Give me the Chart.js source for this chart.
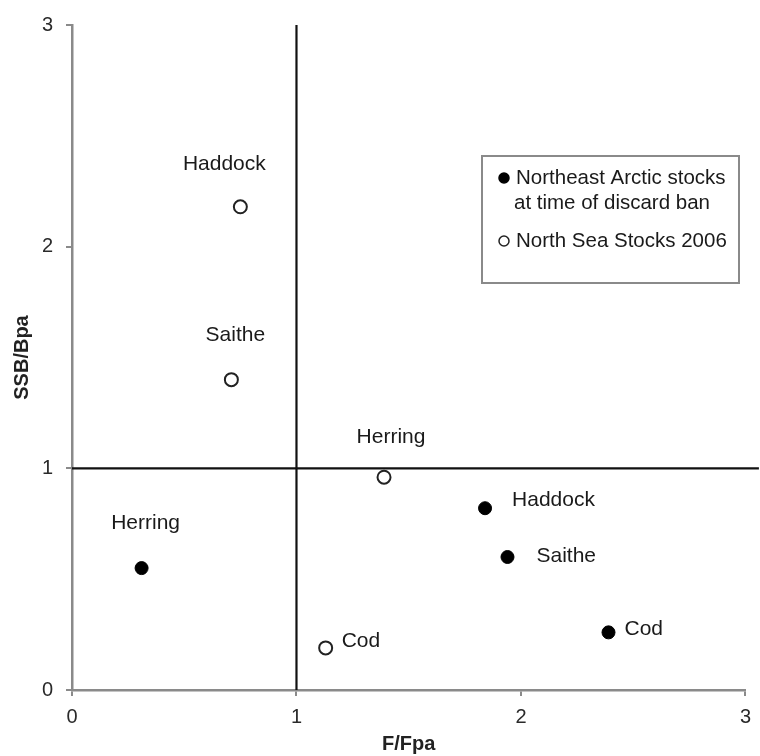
<!DOCTYPE html>
<html>
<head>
<meta charset="utf-8">
<script src="https://cdn.jsdelivr.net/npm/chart.js@4.4.1/dist/chart.umd.min.js"></script>
<style>
  html, body { margin: 0; padding: 0; background: #fff; }
  canvas { display: block; }
</style>
</head>
<body>
<canvas id="c" width="760" height="756"></canvas>
<script>
// Axis ticks
const xTicks = [0, 1, 2, 3];
const yTicks = [0, 1, 2, 3];

// Series names (legend lines)
const seriesNames = [
  ['Northeast Arctic stocks', 'at time of discard ban'],
  ['North Sea Stocks 2006']
];

// Northeast Arctic stocks at time of discard ban
const arcticStocks = ['Herring', 'Haddock', 'Saithe', 'Cod'];
const arcticF      = [0.31, 1.84, 1.94, 2.39];
const arcticSSB    = [0.55, 0.82, 0.60, 0.26];

// North Sea stocks 2006
const northSeaStocks = ['Haddock', 'Saithe', 'Herring', 'Cod'];
const northSeaF      = [0.75, 0.71, 1.39, 1.13];
const northSeaSSB    = [2.18, 1.40, 0.96, 0.19];

// Precautionary reference levels
const refF = 1;
const refSSB = 1;
const refLineEnd = 3.06;

// Label placement next to each point: [dx, dy, align]
const arcticLabelPlacement = [[4, -45, 'center'], [27, -8, 'left'], [29, -1, 'left'], [16, -3, 'left']];
const northSeaLabelPlacement = [[-16, -43, 'center'], [4, -44, 'center'], [7, -40, 'center'], [16, -7, 'left']];

const FONT = "'Liberation Sans', Arial, Helvetica, sans-serif";
const AXIS_GREY = '#8a8a8a';

const toPoints = (xs, ys) => xs.map((x, i) => ({ x: x, y: ys[i] }));

const pointLabels = {
  id: 'pointLabels',
  afterDatasetsDraw(chart) {
    const ctx = chart.ctx;
    ctx.save();
    ctx.font = '21px ' + FONT;
    ctx.fillStyle = '#1a1a1a';
    ctx.textBaseline = 'middle';
    chart.data.datasets.forEach((ds, di) => {
      if (!ds.stockNames) return;
      const meta = chart.getDatasetMeta(di);
      meta.data.forEach((el, i) => {
        const [dx, dy, align] = ds.labelPlacement[i];
        ctx.textAlign = align;
        ctx.fillText(ds.stockNames[i], el.x + dx, el.y + dy);
      });
    });
    ctx.restore();
  }
};

const boxedLegend = {
  id: 'boxedLegend',
  afterDraw(chart) {
    const ctx = chart.ctx;
    const a = chart.chartArea;
    const left = a.left + 410, top = a.top + 131, w = 257, h = 127;
    ctx.save();
    ctx.strokeStyle = AXIS_GREY;
    ctx.lineWidth = 2;
    ctx.strokeRect(left, top, w, h);
    ctx.font = '20.5px ' + FONT;
    ctx.fillStyle = '#1a1a1a';
    ctx.textBaseline = 'middle';
    ctx.textAlign = 'left';
    const rows = [
      { ds: chart.data.datasets[0], y: top + 22 },
      { ds: chart.data.datasets[1], y: top + 85 }
    ];
    rows.forEach(r => {
      ctx.beginPath();
      ctx.arc(left + 22, r.y, 5, 0, Math.PI * 2);
      ctx.fillStyle = r.ds.backgroundColor;
      ctx.fill();
      ctx.lineWidth = 1.5;
      ctx.strokeStyle = r.ds.borderColor;
      ctx.stroke();
      ctx.fillStyle = '#1a1a1a';
      r.ds.legendLines.forEach((line, k) => {
        ctx.fillText(line, left + 34 - (k > 0 ? 2 : 0), r.y + k * 25);
      });
    });
    ctx.restore();
  }
};

new Chart(document.getElementById('c'), {
  type: 'scatter',
  data: {
    datasets: [
      {
        label: seriesNames[0].join(' '),
        legendLines: seriesNames[0],
        stockNames: arcticStocks,
        labelPlacement: arcticLabelPlacement,
        data: toPoints(arcticF, arcticSSB),
        backgroundColor: '#000',
        borderColor: '#000',
        pointRadius: 6.5,
        borderWidth: 1,
        order: 1
      },
      {
        label: seriesNames[1].join(' '),
        legendLines: seriesNames[1],
        stockNames: northSeaStocks,
        labelPlacement: northSeaLabelPlacement,
        data: toPoints(northSeaF, northSeaSSB),
        backgroundColor: '#fff',
        borderColor: '#222',
        pointRadius: 6.5,
        borderWidth: 2,
        order: 1
      },
      {
        type: 'line',
        data: [{ x: refF, y: yTicks[0] }, { x: refF, y: yTicks[yTicks.length - 1] }],
        borderColor: '#111',
        borderWidth: 2.2,
        pointRadius: 0,
        showLine: true,
        order: 2
      },
      {
        type: 'line',
        data: [{ x: xTicks[0], y: refSSB }, { x: refLineEnd, y: refSSB }],
        borderColor: '#111',
        borderWidth: 2.2,
        pointRadius: 0,
        showLine: true,
        clip: false,
        order: 2
      }
    ]
  },
  options: {
    responsive: false,
    animation: false,
    events: [],
    layout: { padding: { top: 24, right: 13, left: 0, bottom: 0 } },
    plugins: {
      legend: { display: false },
      tooltip: { enabled: false }
    },
    scales: {
      x: {
        type: 'linear',
        min: xTicks[0],
        max: xTicks[xTicks.length - 1],
        afterBuildTicks(scale) { scale.ticks = xTicks.map(v => ({ value: v })); },
        afterFit(scale) { scale.height = 66; },
        ticks: { padding: 9, color: '#2a2a2a', font: { family: FONT, size: 20 } },
        grid: { drawOnChartArea: false, drawTicks: true, tickLength: 6, color: AXIS_GREY, lineWidth: 2 },
        border: { display: true, color: AXIS_GREY, width: 2.5 },
        title: { display: true, text: 'F/Fpa', color: '#222', padding: { top: 0, bottom: 0 }, font: { family: FONT, size: 20, weight: 'bold' } }
      },
      y: {
        type: 'linear',
        min: yTicks[0],
        max: yTicks[yTicks.length - 1],
        afterBuildTicks(scale) { scale.ticks = yTicks.map(v => ({ value: v })); },
        afterFit(scale) { scale.width = 72; },
        ticks: { padding: 13, color: '#2a2a2a', font: { family: FONT, size: 20 } },
        grid: { drawOnChartArea: false, drawTicks: true, tickLength: 6, color: AXIS_GREY, lineWidth: 2 },
        border: { display: true, color: AXIS_GREY, width: 2.5 },
        title: { display: true, text: 'SSB/Bpa', color: '#222', padding: { top: 10, bottom: 0 }, font: { family: FONT, size: 20, weight: 'bold' } }
      }
    }
  },
  plugins: [pointLabels, boxedLegend]
});
</script>
</body>
</html>
